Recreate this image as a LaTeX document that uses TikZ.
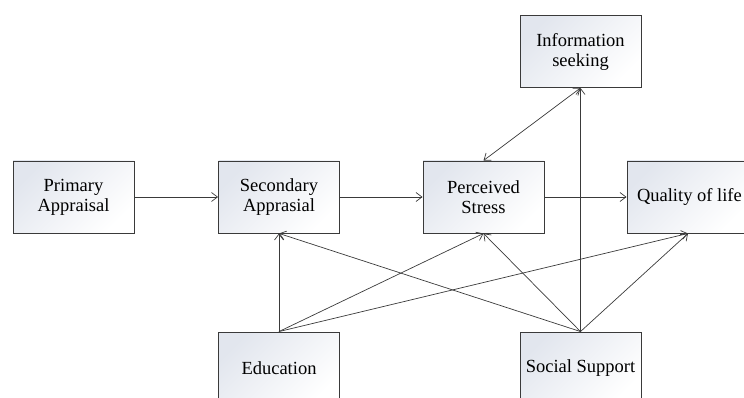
\documentclass[tikz,border=0pt]{standalone}
\usepackage{fontspec}
\setmainfont{Liberation Serif}
\usetikzlibrary{arrows.meta}
\definecolor{boxtop}{HTML}{E2E6EE}
\definecolor{linec}{HTML}{3A3A3A}
\tikzset{
  box/.style={draw=linec, line width=0.9pt, top color=boxtop, bottom color=white, shading angle=45,
    minimum width=121pt, minimum height=72pt, align=center, inner sep=2pt,
    font=\fontsize{18.5}{20}\selectfont},
  conn/.style={draw=linec, line width=0.7pt, -{Straight Barb[length=6pt,width=9pt]}},
  conn2/.style={draw=linec, line width=0.7pt, {Straight Barb[length=6pt,width=9pt]}-{Straight Barb[length=6pt,width=9pt]}}
}
\begin{document}
\begin{tikzpicture}[x=1pt,y=-1pt]
\useasboundingbox (0,0) rectangle (744,398);
\clip (0,0) rectangle (744,398);
\node[box] (prim) at (73.5,197) {Primary\\Appraisal};
\node[box] (sec) at (279,197) {Secondary\\Apprasial};
\node[box] (per) at (483.5,197) {Perceived\\Stress};
\node[box] (info) at (580.5,51.5) {Information\\seeking};
\node[box, minimum width=122pt] (qual) at (688,197) {\makebox[102pt][l]{Quality of life}};
\node[box] (edu) at (279,368) {Education};
\node[box] (soc) at (580.5,368) {Social Support};
\draw[conn] (prim) -- (sec);
\draw[conn] (sec) -- (per);
\draw[conn] (per) -- (qual);
\draw[conn2] (per.north) -- (info.south);
\draw[conn] (soc.north) -- (info.south);
\draw[conn] (edu.north) -- (sec.south);
\draw[conn] (edu.north) -- (per.south);
\draw[conn] (edu.north) -- (qual.south);
\draw[conn] (soc.north) -- (sec.south);
\draw[conn] (soc.north) -- (per.south);
\draw[conn] (soc.north) -- (qual.south);
\end{tikzpicture}
\end{document}
